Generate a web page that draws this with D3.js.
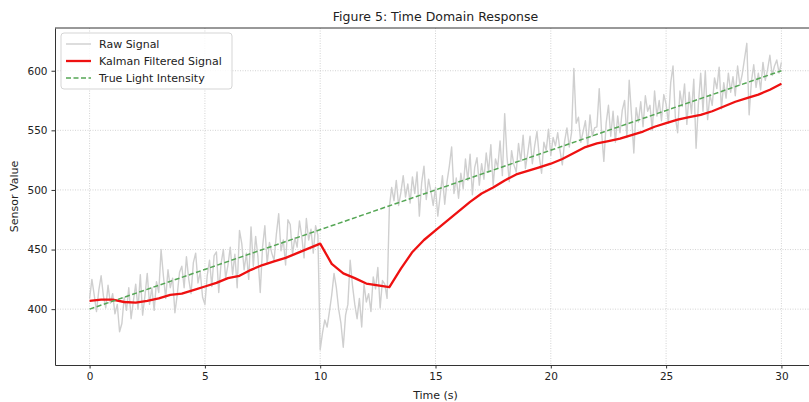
<!DOCTYPE html>
<html>
<head>
<meta charset="utf-8">
<script src="https://cdn.jsdelivr.net/npm/d3@7"></script>
<style>
  body { margin: 0; background: #fff; }
  svg text { font-family: "DejaVu Sans", sans-serif; fill: #222; }
</style>
</head>
<body>
<div id="chart"></div>
<script>
// raw sensor readings, one every 0.1 s from t = 0 to t = 30
var rawSignal = [
  409, 425, 412, 398, 416, 428, 411, 401, 420, 405,
  413, 396, 404, 381, 388, 410, 399, 418, 392, 407,
  421, 400, 429, 395, 411, 430, 404, 418, 399, 423,
  414, 450, 428, 409, 433, 418, 426, 397, 412, 431,
  436, 418, 444, 425, 413, 439, 447, 422, 431, 410,
  404, 428, 441, 419, 445, 448, 414, 438, 450, 426,
  437, 452, 429, 446, 418, 466, 455, 433, 447, 425,
  469, 436, 461, 444, 414, 452, 470, 438, 456, 447,
  441, 463, 480, 449, 458, 437, 475, 471, 446, 460,
  452, 474, 461, 443, 476, 458, 467, 447, 470, 462,
  366, 380, 391, 385, 398, 412, 430, 418, 400, 388,
  368, 395, 404, 441, 420, 404, 392, 409, 385, 421,
  406, 413, 398, 427, 417, 435, 401, 424, 421, 409,
  486, 502, 491, 508, 487, 498, 512, 494, 505, 489,
  511, 497, 515, 478, 506, 520, 492, 509, 499, 487,
  502, 478, 495, 512, 488, 507, 520, 536, 497, 510,
  493, 514, 501, 526, 508, 530, 496, 519, 527, 504,
  522, 509, 531, 515, 538, 504, 526, 519, 541, 512,
  564, 528, 507, 533, 521, 515, 539, 524, 546, 518,
  531, 545, 522, 537, 549, 528, 514, 540, 533, 551,
  529, 544, 537, 548, 533, 521, 541, 552, 536, 548,
  602, 556, 561, 540, 549, 558, 537, 563, 545, 552,
  553, 585, 549, 524, 556, 571, 545, 566, 540, 562,
  548, 567, 575, 544, 592, 563, 531, 569, 557, 574,
  553, 579, 566, 571, 550, 583, 562, 575, 558, 580,
  572, 556, 590, 604, 561, 548, 583, 570, 589, 555,
  582, 564, 593, 535, 572, 598, 566, 600, 559, 580,
  571, 594, 585, 603, 568, 590, 577, 598, 582, 595,
  579, 604, 588, 597, 610, 623, 563, 591, 605, 586,
  598, 584, 607, 592, 601, 613, 596, 604, 609, 598,
  607
];
var rawStep = 0.1;

// kalman estimate, read every 0.5 s
var kalmanSignal = [
  407, 408, 408, 406, 405.5, 407, 409, 412, 413, 416,
  419, 422, 426, 428, 433, 437, 440, 443, 447, 451,
  455, 438, 430, 426, 421.5, 420, 418.5, 434, 448, 458,
  466, 474, 482, 490, 497, 502, 508, 513, 516, 519,
  522, 526, 531, 536, 539, 541, 543, 546, 549, 553,
  556, 559, 561, 563, 566, 570, 574, 577, 580, 584,
  589
];
var kalmanStep = 0.5;

// true light intensity (straight ramp)
var trueTime = [0, 30];
var trueValue = [400, 600];

var xTicks = [0, 5, 10, 15, 20, 25, 30];
var yTicks = [400, 450, 500, 550, 600];

var width = 809, height = 402;
var margin = {left: 55, right: -7, top: 28, bottom: 37};

var svg = d3.select("#chart").append("svg")
  .attr("width", width)
  .attr("height", height);

var rawPts = rawSignal.map(function(v, i){ return [i * rawStep, v]; });
var kalPts = kalmanSignal.map(function(v, i){ return [i * kalmanStep, v]; });
var truePts = trueTime.map(function(t, i){ return [t, trueValue[i]]; });

// matplotlib style 5% padding
var tMax = d3.max(rawPts, function(d){ return d[0]; });
var vMin = d3.min(rawSignal), vMax = d3.max(rawSignal);
var xPad = tMax * 0.05, yPad = (vMax - vMin) * 0.05;

var x = d3.scaleLinear()
  .domain([-xPad, tMax + xPad])
  .range([margin.left, width - margin.right]);
var y = d3.scaleLinear()
  .domain([vMin - yPad, vMax + yPad])
  .range([height - margin.bottom, margin.top]);

// grid
var grid = svg.append("g");
xTicks.forEach(function(t){
  grid.append("line")
    .attr("x1", x(t)).attr("x2", x(t))
    .attr("y1", margin.top).attr("y2", height - margin.bottom)
    .attr("stroke", "#c8c8c8").attr("stroke-width", 0.8)
    .attr("stroke-dasharray", "1,1.5");
});
yTicks.forEach(function(v){
  grid.append("line")
    .attr("x1", margin.left).attr("x2", width - margin.right)
    .attr("y1", y(v)).attr("y2", y(v))
    .attr("stroke", "#c8c8c8").attr("stroke-width", 0.8)
    .attr("stroke-dasharray", "1,1.5");
});

var line = d3.line()
  .x(function(d){ return x(d[0]); })
  .y(function(d){ return y(d[1]); });

svg.append("path").datum(rawPts)
  .attr("d", line)
  .attr("fill", "none")
  .attr("stroke", "#cfcfcf")
  .attr("stroke-width", 1.4)
  .attr("stroke-linejoin", "round");

svg.append("path").datum(kalPts)
  .attr("d", line)
  .attr("fill", "none")
  .attr("stroke", "#ee1111")
  .attr("stroke-width", 2.3)
  .attr("stroke-linejoin", "round");

svg.append("path").datum(truePts)
  .attr("d", line)
  .attr("fill", "none")
  .attr("stroke", "#55a655")
  .attr("stroke-width", 1.5)
  .attr("stroke-dasharray", "5,2.5");

// axes
var xAxis = svg.append("g")
  .attr("transform", "translate(0," + (height - margin.bottom) + ")")
  .call(d3.axisBottom(x).tickValues(xTicks).tickSizeInner(3.5).tickSizeOuter(0).tickPadding(4));
var yAxis = svg.append("g")
  .attr("transform", "translate(" + margin.left + ",0)")
  .call(d3.axisLeft(y).tickValues(yTicks).tickSizeInner(3.5).tickSizeOuter(0).tickPadding(4));

[xAxis, yAxis].forEach(function(a){
  a.select(".domain").attr("stroke", "#333").attr("stroke-width", 1);
  a.selectAll(".tick line").attr("stroke", "#333");
  a.selectAll(".tick text").style("font-family", "DejaVu Sans").style("font-size", "10.5px").attr("fill", "#222");
});

// top and right spines
svg.append("line")
  .attr("x1", margin.left).attr("x2", width - margin.right)
  .attr("y1", margin.top).attr("y2", margin.top)
  .attr("stroke", "#333").attr("stroke-width", 1);
svg.append("line")
  .attr("x1", width - margin.right).attr("x2", width - margin.right)
  .attr("y1", margin.top).attr("y2", height - margin.bottom)
  .attr("stroke", "#333").attr("stroke-width", 1);

// titles
var cx = (margin.left + width - margin.right) / 2;
svg.append("text")
  .attr("x", cx).attr("y", 21)
  .attr("text-anchor", "middle")
  .style("font-size", "12.5px")
  .text("Figure 5: Time Domain Response");
svg.append("text")
  .attr("x", cx).attr("y", 399)
  .attr("text-anchor", "middle")
  .style("font-size", "11px")
  .text("Time (s)");
svg.append("text")
  .attr("transform", "translate(18," + ((margin.top + height - margin.bottom) / 2) + ") rotate(-90)")
  .attr("text-anchor", "middle")
  .style("font-size", "11px")
  .text("Sensor Value");

// legend
var legendItems = [
  {label: "Raw Signal", color: "#cfcfcf", w: 1.4, dash: null},
  {label: "Kalman Filtered Signal", color: "#ee1111", w: 2.3, dash: null},
  {label: "True Light Intensity", color: "#55a655", w: 1.5, dash: "5,2.5"}
];
var lg = svg.append("g").attr("transform", "translate(61,33)");
lg.append("rect")
  .attr("width", 171).attr("height", 56)
  .attr("rx", 3)
  .attr("fill", "#fff").attr("fill-opacity", 0.85)
  .attr("stroke", "#d5d5d5");
legendItems.forEach(function(it, i){
  var yy = 11 + i * 17;
  lg.append("line")
    .attr("x1", 5).attr("x2", 30)
    .attr("y1", yy).attr("y2", yy)
    .attr("stroke", it.color).attr("stroke-width", it.w)
    .attr("stroke-dasharray", it.dash);
  lg.append("text")
    .attr("x", 38).attr("y", yy + 4)
    .style("font-size", "11px")
    .text(it.label);
});
</script>
</body>
</html>
